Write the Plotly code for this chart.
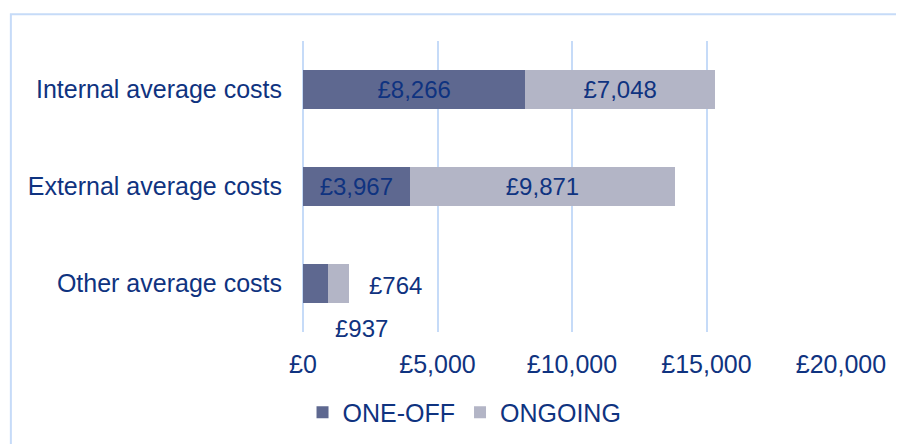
import plotly.graph_objects as go

categories = ["Internal average costs", "External average costs", "Other average costs"]
one_off = [8266, 3967, 937]
ongoing = [7048, 9871, 764]
x_ticks = [0, 5000, 10000, 15000, 20000]
x_tick_labels = ["£0", "£5,000", "£10,000", "£15,000", "£20,000"]

NAVY = "#0f3380"
GRID = "#c6dbf8"
FONT = "Liberation Sans, Arial, sans-serif"

# Excel-style: small bar gets its labels drawn outside as annotations
inside_one = [f"£{v:,}" if i < 2 else "" for i, v in enumerate(one_off)]
inside_ong = [f"£{v:,}" if i < 2 else "" for i, v in enumerate(ongoing)]

fig = go.Figure()

fig.add_trace(
    go.Bar(
        y=categories,
        x=one_off,
        orientation="h",
        name="ONE-OFF",
        marker=dict(color="#5e6890", line=dict(width=0)),
        text=inside_one,
        textposition="inside",
        insidetextanchor="middle",
        textfont=dict(color=NAVY, size=24, family=FONT),
        hoverinfo="x+name",
    )
)

fig.add_trace(
    go.Bar(
        y=categories,
        x=ongoing,
        orientation="h",
        name="ONGOING",
        marker=dict(color="#b3b5c6", line=dict(width=0)),
        text=inside_ong,
        textposition="inside",
        insidetextanchor="middle",
        textfont=dict(color=NAVY, size=24, family=FONT),
        hoverinfo="x+name",
    )
)

# labels for the small "Other" bar
total_other = one_off[2] + ongoing[2]
fig.add_annotation(
    x=total_other, y=categories[2], text=f"£{ongoing[2]:,}",
    showarrow=False, xanchor="left", xshift=18, yshift=-2,
    font=dict(color=NAVY, size=24, family=FONT),
)
fig.add_annotation(
    x=total_other, y=categories[2], text=f"£{one_off[2]:,}",
    showarrow=False, xanchor="center", xshift=13, yshift=-45,
    font=dict(color=NAVY, size=24, family=FONT),
)

# outer chart border (runs off the right/bottom edge in the source image)
fig.add_shape(
    type="rect", xref="paper", yref="paper",
    x0=-0.543, x1=1.3, y0=-0.6, y1=1.092,
    line=dict(color=GRID, width=2), fillcolor="rgba(0,0,0,0)", layer="below",
)

# page body has an 8px margin, so margins are pulled in by 8px
fig.update_layout(
    barmode="stack",
    bargap=0.6,
    width=904,
    height=444,
    margin=dict(l=295, r=71, t=33, b=119),
    paper_bgcolor="white",
    plot_bgcolor="white",
    font=dict(family=FONT, size=25, color=NAVY),
    showlegend=True,
    legend=dict(
        orientation="h",
        traceorder="normal",
        xref="container", x=0.505, xanchor="center",
        yref="container", y=0.037, yanchor="bottom",
        font=dict(size=25, color=NAVY),
        itemwidth=30,
        tracegroupgap=0,
    ),
    xaxis=dict(
        range=[0, 20000],
        tickvals=x_ticks,
        ticktext=x_tick_labels,
        showgrid=True,
        gridcolor=GRID,
        gridwidth=2,
        zeroline=True,
        zerolinecolor=GRID,
        zerolinewidth=2,
        showline=False,
        ticks="",
        ticklabelstandoff=15,
        tickfont=dict(size=25, color=NAVY),
    ),
    yaxis=dict(
        autorange="reversed",
        showgrid=False,
        showline=False,
        ticks="",
        ticklabelstandoff=20,
        tickfont=dict(size=25, color=NAVY),
    ),
)

fig.write_html("out.html")
